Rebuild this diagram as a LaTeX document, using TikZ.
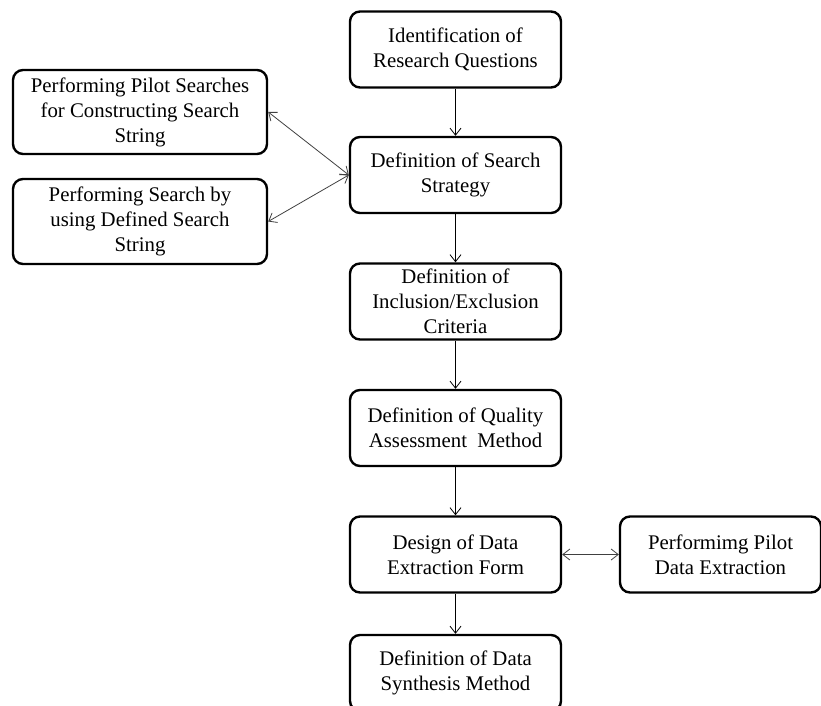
\documentclass[tikz,border=0pt]{standalone}
\usepackage{fontspec}
\setmainfont{Liberation Serif}
\usetikzlibrary{arrows.meta}
\begin{document}
\begin{tikzpicture}[x=1pt,y=-1pt,
  stage/.style={draw=black, line width=2.4pt, rounded corners=10pt, fill=white,
    align=center, inner sep=2pt, font=\fontsize{20.8}{25}\selectfont,
    text=black, minimum height=76pt},
  flow/.style={draw=black, line width=0.8pt, -{Straight Barb[length=7pt,width=11pt]}},
  both/.style={draw=black!75, line width=0.8pt,
    {Straight Barb[length=7pt,width=11pt]}-{Straight Barb[length=7pt,width=11pt]}}]
  \useasboundingbox (0,0) rectangle (821,706);

  % main column
  \node[stage, minimum width=211pt] (rq)  at (455.5,49.5) {Identification of\\Research Questions};
  \node[stage, minimum width=211pt] (ss)  at (455.5,175) {Definition of Search\\Strategy};
  \node[stage, minimum width=211pt] (ie)  at (455.5,301.5) {Definition of\\Inclusion/Exclusion\\Criteria};
  \node[stage, minimum width=211pt] (qa)  at (455.5,428) {Definition of Quality\\Assessment~ Method};
  \node[stage, minimum width=211pt] (df)  at (455.5,554.5) {Design of Data\\Extraction Form};
  \node[stage, minimum width=211pt] (sm)  at (455.5,673) {Definition of Data\\Synthesis Method};

  % side activities
  \node[stage, minimum width=254pt, minimum height=84pt] (ps) at (140,112) {Performing Pilot Searches\\for Constructing Search\\String};
  \node[stage, minimum width=254pt, minimum height=85pt] (sd) at (140,221.5) {Performing Search by\\using Defined Search\\String};
  \node[stage, minimum width=201pt] (pe) at (720.5,554.5) {Performimg Pilot\\Data Extraction};

  % connectors
  \draw[flow] (rq) -- (ss);
  \draw[flow] (ss) -- (ie);
  \draw[flow] (ie) -- (qa);
  \draw[flow] (qa) -- (df);
  \draw[flow] (df) -- (sm);
  \draw[both] (ps.east) -- (ss.west);
  \draw[both] (sd.east) -- (ss.west);
  \draw[both] (df.east) -- (pe.west);
\end{tikzpicture}
\end{document}
